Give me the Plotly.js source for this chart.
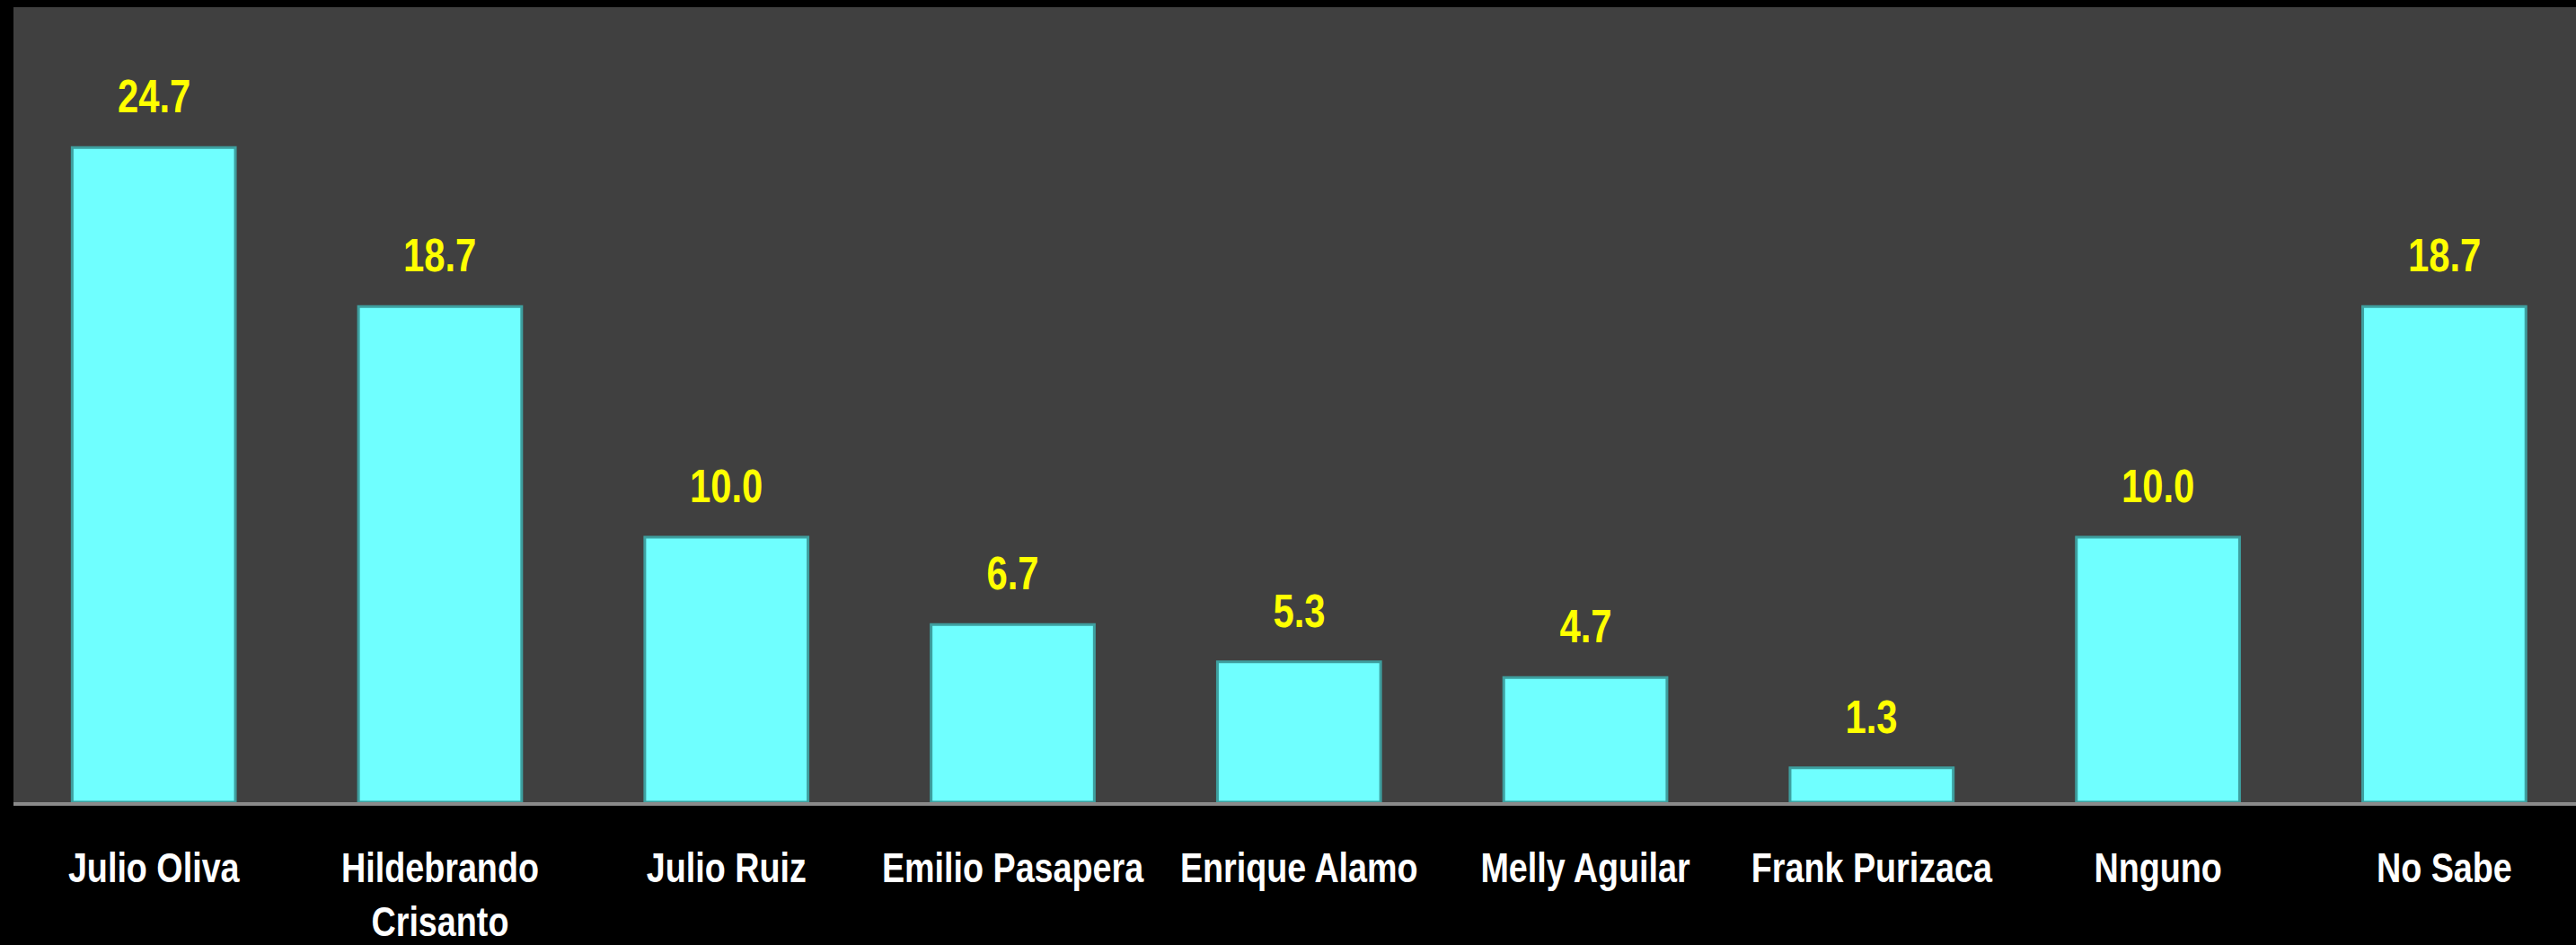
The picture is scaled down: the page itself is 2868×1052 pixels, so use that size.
<!DOCTYPE html>
<html>
<head>
<meta charset="utf-8">
<script src="https://cdn.plot.ly/plotly-3.0.1.min.js"></script>
<style>
html,body{margin:0;padding:0;background:#000;}
#chart{width:2868px;height:1052px;}
</style>
</head>
<body>
<div id="chart"></div>
<script>
var categories = ["Julio Oliva", "Hildebrando<br>Crisanto", "Julio Ruiz", "Emilio Pasapera", "Enrique Alamo", "Melly Aguilar", "Frank Purizaca", "Nnguno", "No Sabe"];
var values = [24.7, 18.7, 10.0, 6.7, 5.3, 4.7, 1.3, 10.0, 18.7];
var valueLabels = ["24.7", "18.7", "10.0", "6.7", "5.3", "4.7", "1.3", "10.0", "18.7"];

var fontFam = '"Liberation Sans", Arial, sans-serif';

var trace = {
  type: 'bar',
  x: categories,
  y: values,
  width: 0.57,
  marker: {color: '#6fffff', line: {color: '#3e9f9f', width: 3}},
  hoverinfo: 'none'
};

var annotations = categories.map(function(c, i){
  return {
    x: c, y: values[i], xref: 'x', yref: 'y',
    text: valueLabels[i], showarrow: false,
    yanchor: 'bottom', yshift: 26,
    font: {family: fontFam, size: 51, color: '#ffff00', weight: 'bold'}
  };
});

var layout = {
  width: 2868, height: 1052,
  margin: {l: 15, r: 0, t: 8, b: 159, pad: 0},
  paper_bgcolor: '#000000',
  plot_bgcolor: '#404040',
  showlegend: false,
  xaxis: {
    type: 'category',
    range: [-0.49, 8.46],
    showline: true, linecolor: '#8a8a8a', linewidth: 4,
    ticks: '', showgrid: false, zeroline: false,
    tickangle: 0,
    ticklabelstandoff: 30,
    tickfont: {family: fontFam, size: 46, color: '#ffffff', weight: 'bold'},
    fixedrange: true
  },
  yaxis: {
    range: [0, 30],
    showgrid: false, zeroline: false, showticklabels: false, showline: false, ticks: '',
    fixedrange: true
  },
  annotations: annotations
};

function narrowText(gd){
  var texts = gd.querySelectorAll('.xtick text, .annotation-text');
  texts.forEach(function(t){
    if (t.getAttribute('data-narrow')) return;
    var bb = t.getBBox();
    var cx = bb.x + bb.width / 2;
    var tr = t.getAttribute('transform') || '';
    t.setAttribute('transform', tr + ' translate(' + cx + ',0) scale(0.82,1) translate(' + (-cx) + ',0)');
    t.setAttribute('data-narrow', '1');
  });
}

var gd = document.getElementById('chart');
Plotly.newPlot(gd, [trace], layout, {displayModeBar: false, staticPlot: true}).then(function(){
  narrowText(gd);
  gd.on('plotly_afterplot', function(){ narrowText(gd); });
});
</script>
</body>
</html>
